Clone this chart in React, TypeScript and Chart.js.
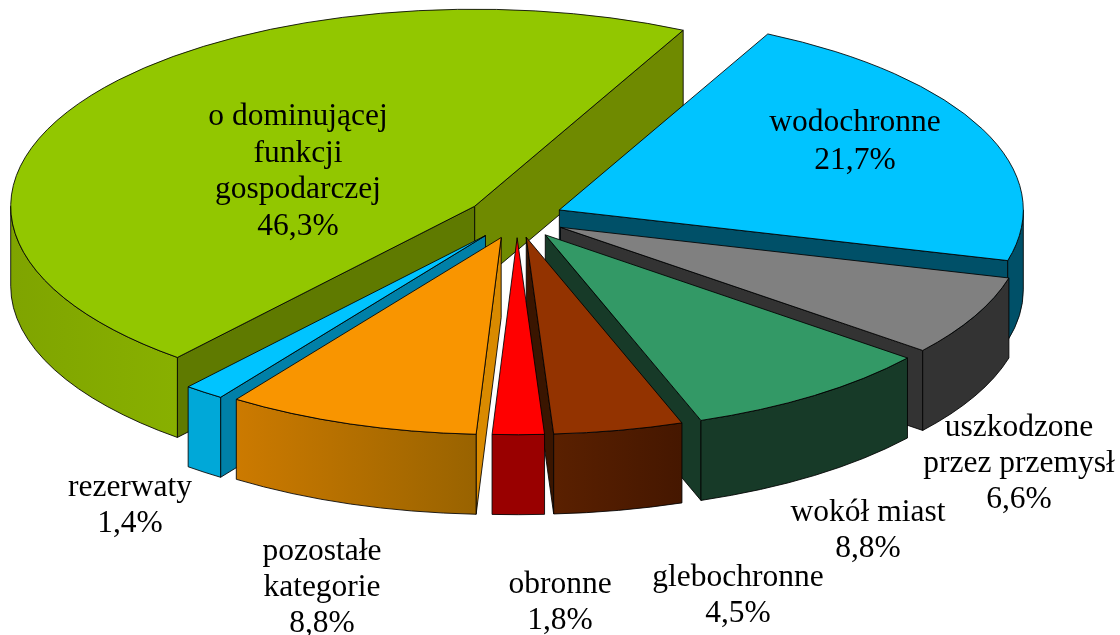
import React, { useEffect, useRef } from "react";
import { Chart, registerables } from "chart.js";

Chart.register(...registerables);

// Slices clockwise from "wodochronne"; the printed percentages are the slice sizes.
const categories = ["wodochronne", "uszkodzone przez przemysł", "wokół miast", "glebochronne", "obronne", "pozostałe kategorie", "rezerwaty", "o dominującej funkcji gospodarczej"];
const sliceShares = [21.7, 6.6, 8.8, 4.5, 1.8, 8.8, 1.4, 46.3];
const sliceExplosion = [0.1, 0.105, 0.105, 0.1, 0.1, 0.105, 0.112, 0.109];
const topColors = ["#00c4ff", "#808080", "#339966", "#933300", "#ff0000", "#f99500", "#00c4ff", "#92c700"];
const rimLeftColors = ["#005068", "#333333", "#173a28", "#5a2000", "#990000", "#cc7a00", "#00a8d8", "#7fa400"];
const rimRightColors = ["#005068", "#333333", "#173a28", "#451700", "#990000", "#996300", "#00a8d8", "#88b000"];
const startCutColors = ["#005068", "#333333", "#173a28", "#3a1500", "#990000", "#d98a00", "#0080a8", "#5f7a00"];
const endCutColors = ["#005068", "#333333", "#173a28", "#3a1500", "#990000", "#d98a00", "#0080a8", "#6f8a00"];

// Printed labels
const labelLines = [
  ["wodochronne", "21,7%"],
  ["uszkodzone", "przez przemysł", "6,6%"],
  ["wokół miast", "8,8%"],
  ["glebochronne", "4,5%"],
  ["obronne", "1,8%"],
  ["pozostałe", "kategorie", "8,8%"],
  ["rezerwaty", "1,4%"],
  ["o dominującej", "funkcji", "gospodarczej", "46,3%"],
];
const labelCenterX = [855, 1019, 868, 738, 560, 322, 130, 298];
const labelFirstY = [123, 428, 513, 578, 585, 552, 488, 117];
const labelLineHeights = [38, 36, 36, 36, 36, 36, 36, 36.5];

// Projection of the pie disc on the page
const CENTER_X = 517;
const CENTER_Y = 218;
const RADIUS_X = 464;
const RADIUS_Y = 197;
const DEPTH = 80;
const FIRST_SLICE_ANGLE = 26.7;
const OUTLINE = "rgba(0,0,0,0.85)";

function geometry(chart: any) {
  const arcs = chart.getDatasetMeta(0).data as any[];
  return arcs.map((arc: any, i: number) => {
    const s = arc.startAngle;
    const e = arc.endAngle;
    const m = (s + e) / 2;
    return {
      arc,
      s,
      e,
      ax: CENTER_X + Math.cos(m) * sliceExplosion[i] * RADIUS_X,
      ay: CENTER_Y + Math.sin(m) * sliceExplosion[i] * RADIUS_Y,
    };
  });
}

const pie3d = {
  id: "pie3d",
  // side walls, back to front
  beforeDatasetsDraw(chart: any) {
    const ctx: CanvasRenderingContext2D = chart.ctx;
    const geo = geometry(chart);
    const order = geo.map((_: any, i: number) => i).sort((a: number, b: number) => geo[a].ay - geo[b].ay);
    ctx.save();
    ctx.lineWidth = 1;
    ctx.strokeStyle = OUTLINE;
    ctx.lineJoin = "round";
    for (const i of order) {
      const g = geo[i];
      const px = (t: number) => g.ax + Math.cos(t) * RADIUS_X;
      const py = (t: number) => g.ay + Math.sin(t) * RADIUS_Y;
      const cut = (t: number, color: string) => {
        ctx.beginPath();
        ctx.moveTo(g.ax, g.ay);
        ctx.lineTo(px(t), py(t));
        ctx.lineTo(px(t), py(t) + DEPTH);
        ctx.lineTo(g.ax, g.ay + DEPTH);
        ctx.closePath();
        ctx.fillStyle = color;
        ctx.fill();
        ctx.stroke();
      };
      if (Math.cos(g.s) < 0) cut(g.s, startCutColors[i]);
      if (Math.cos(g.e) > 0) cut(g.e, endCutColors[i]);
      // outer rim: the part of the slice on the front half of the disc
      for (const shift of [0, Math.PI * 2, -Math.PI * 2]) {
        const a = Math.max(g.s, shift);
        const b = Math.min(g.e, shift + Math.PI);
        if (b <= a) continue;
        const grad = ctx.createLinearGradient(Math.min(px(a), px(b)), 0, Math.max(px(a), px(b)), 0);
        grad.addColorStop(0, rimLeftColors[i]);
        grad.addColorStop(1, rimRightColors[i]);
        ctx.beginPath();
        ctx.ellipse(g.ax, g.ay, RADIUS_X, RADIUS_Y, 0, a, b);
        ctx.ellipse(g.ax, g.ay + DEPTH, RADIUS_X, RADIUS_Y, 0, b, a, true);
        ctx.closePath();
        ctx.fillStyle = grad;
        ctx.fill();
        ctx.stroke();
      }
    }
    ctx.restore();
  },
  // top faces: Chart.js's own arc elements, each projected on to the tilted disc
  beforeDatasetDraw(chart: any) {
    const ctx: CanvasRenderingContext2D = chart.ctx;
    for (const g of geometry(chart)) {
      const R = g.arc.outerRadius;
      ctx.save();
      ctx.translate(g.ax, g.ay);
      ctx.scale(RADIUS_X / R, RADIUS_Y / R);
      ctx.translate(-g.arc.x, -g.arc.y);
      g.arc.draw(ctx);
      ctx.restore();
    }
    return false;
  },
  afterDatasetsDraw(chart: any) {
    const ctx: CanvasRenderingContext2D = chart.ctx;
    const geo = geometry(chart);
    ctx.save();
    ctx.lineWidth = 1;
    ctx.strokeStyle = OUTLINE;
    ctx.lineJoin = "round";
    for (const g of geo) {
      ctx.beginPath();
      ctx.moveTo(g.ax, g.ay);
      ctx.ellipse(g.ax, g.ay, RADIUS_X, RADIUS_Y, 0, g.s, g.e);
      ctx.closePath();
      ctx.stroke();
    }
    ctx.fillStyle = "#000";
    ctx.font = '31.5px "Liberation Serif"';
    ctx.textAlign = "center";
    ctx.textBaseline = "middle";
    labelLines.forEach((lines, i) => {
      lines.forEach((line, j) => {
        ctx.fillText(line, labelCenterX[i], labelFirstY[i] + j * labelLineHeights[i]);
      });
    });
    ctx.restore();
  },
};

export default function App() {
  const ref = useRef<HTMLCanvasElement>(null);
  useEffect(() => {
    const chart = new Chart(ref.current as HTMLCanvasElement, {
      type: "pie",
      data: {
        labels: categories,
        datasets: [
          {
            data: sliceShares,
            backgroundColor: topColors,
            borderWidth: 0,
            clip: false,
          } as any,
        ],
      },
      options: {
        responsive: false,
        animation: false,
        rotation: FIRST_SLICE_ANGLE,
        events: [],
        layout: { padding: 0 },
        plugins: { legend: { display: false }, tooltip: { enabled: false }, title: { display: false } },
      },
      plugins: [pie3d],
    } as any);
    return () => chart.destroy();
  }, []);
  return (
    <div style={{ position: "fixed", left: 0, top: 0, width: 1120, height: 635, background: "#fff", overflow: "hidden" }}>
      <canvas ref={ref} width={1120} height={635} style={{ display: "block" }} />
    </div>
  );
}
